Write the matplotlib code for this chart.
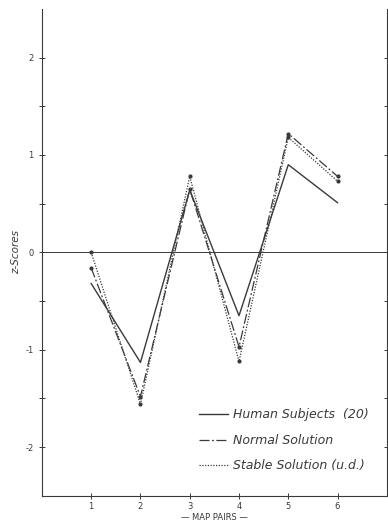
import numpy as np
import matplotlib.pyplot as plt
from matplotlib.lines import Line2D

plt.rcParams['axes.unicode_minus'] = False

map_pairs = [1, 2, 3, 4, 5, 6]
human = [-0.32, -1.13, 0.64, -0.65, 0.90, 0.51]
normal = [-0.16, -1.48, 0.65, -0.97, 1.22, 0.78]
stable = [0.0, -1.56, 0.78, -1.12, 1.18, 0.73]

ink = '#3a3a3a'
dashdot = (0, (8, 2, 1.5, 2))
dotted = (0, (1, 1.2))

fig = plt.figure(figsize=(3.88, 5.22), dpi=100)
ax = fig.add_axes([0.108, 0.05, 0.889, 0.933])

ax.axhline(0, color=ink, lw=0.7)
ax.plot(map_pairs, human, color=ink, lw=1.0, ls='-')
ax.plot(map_pairs, normal, color=ink, lw=0.9, ls=dashdot, marker='o', ms=2)
ax.plot(map_pairs, stable, color=ink, lw=0.9, ls=dotted, marker='o', ms=2)

ax.set_xlim(0, 7)
ax.set_ylim(-2.5, 2.5)
ax.set_xticks(map_pairs)
ax.set_yticks([-2, -1, 0, 1, 2])
ax.set_yticks([-1.5, -0.5, 0.5, 1.5], minor=True)
ax.tick_params(axis='both', direction='inout', length=5, width=0.7,
               colors=ink, labelsize=6)
ax.tick_params(axis='y', which='minor', direction='inout', length=4, width=0.7, color=ink)
ax.tick_params(axis='y', right=True, which='both')
ax.tick_params(axis='x', pad=2)

for s in ['left', 'right', 'bottom']:
    ax.spines[s].set_color(ink)
    ax.spines[s].set_linewidth(0.8)
ax.spines['top'].set_visible(False)

ax.set_ylabel('z-Scores', fontsize=7.5, style='italic', color=ink, labelpad=3)
ax.set_xlabel('— MAP PAIRS —', fontsize=6, color=ink, labelpad=1)

handles = [
    Line2D([], [], color=ink, lw=1.0, ls='-'),
    Line2D([], [], color=ink, lw=0.9, ls=dashdot),
    Line2D([], [], color=ink, lw=0.9, ls=dotted),
]
labels = ['Human Subjects  (20)', 'Normal Solution', 'Stable Solution (u.d.)']
leg = ax.legend(handles, labels, loc='lower right', bbox_to_anchor=(0.98, 0.025),
                frameon=False, handlelength=2.3, handletextpad=0.4,
                labelspacing=1.0, prop={'style': 'italic', 'size': 9})
for t in leg.get_texts():
    t.set_color(ink)

fig.savefig('out.png', dpi=100, facecolor='white')
